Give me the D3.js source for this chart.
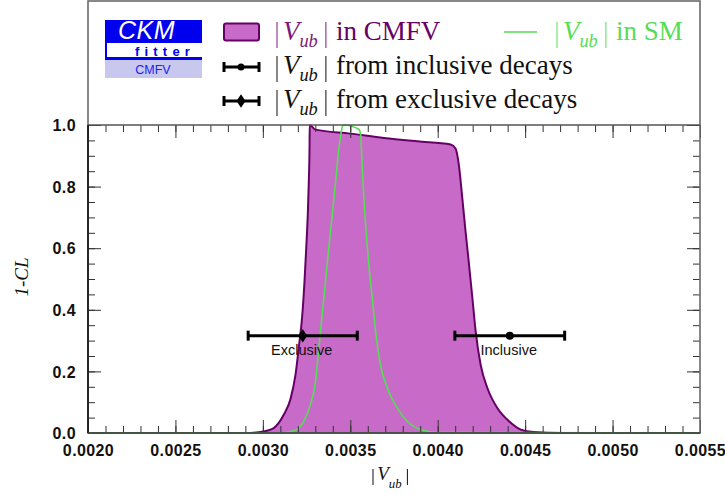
<!DOCTYPE html>
<html>
<head>
<meta charset="utf-8">
<script src="https://cdn.jsdelivr.net/npm/d3@7"></script>
<style>
  html, body { margin: 0; padding: 0; background: #fff; }
  svg { display: block; }
</style>
</head>
<body>
<svg id="chart" width="725" height="502"></svg>
<script>
// --- data ---
const cmfvX = [0.0020, 0.0029, 0.003003, 0.003062, 0.00312, 0.003158, 0.003187, 0.003206, 0.003225, 0.003238,
  0.003248, 0.003257, 0.003263, 0.003267, 0.003268, 0.003301, 0.003501, 0.003692, 0.003883, 0.004074,
  0.004102, 0.004121, 0.004141, 0.00416, 0.004179, 0.004198, 0.004217, 0.004246, 0.004284, 0.004341,
  0.004408, 0.004475, 0.004551, 0.004704, 0.0055];
const cmfvY = [0, 0, 0.005, 0.016, 0.06, 0.11, 0.19, 0.28, 0.38, 0.49,
  0.60, 0.71, 0.82, 0.93, 1.0, 0.985, 0.972, 0.958, 0.947, 0.937,
  0.924, 0.87, 0.76, 0.65, 0.547, 0.44, 0.33, 0.22, 0.146, 0.081,
  0.038, 0.011, 0.003, 0, 0];

const smX = [0.0020, 0.0031, 0.003177, 0.003234, 0.003272, 0.003301, 0.00332, 0.003339, 0.003358, 0.003377,
  0.003397, 0.003416, 0.003434, 0.003454, 0.00346, 0.003549, 0.003559, 0.003568, 0.003578, 0.003591,
  0.003606, 0.003626, 0.003645, 0.003673, 0.003712, 0.003769, 0.003826, 0.003902, 0.003998, 0.0055];
const smY = [0, 0, 0.007, 0.038, 0.092, 0.167, 0.275, 0.384, 0.49, 0.60,
  0.71, 0.815, 0.92, 0.993, 1.0, 0.986, 0.97, 0.87, 0.76, 0.65,
  0.545, 0.437, 0.33, 0.22, 0.146, 0.081, 0.038, 0.011, 0.002, 0];

// measurements: central value, error, CL level where drawn
const measNames = ['Exclusive', 'Inclusive'];
const measCentral = [0.003228, 0.004412];
const measError = [0.000312, 0.000314];
const measLevel = [0.316, 0.316];

const xTicks = [0.0020, 0.0025, 0.0030, 0.0035, 0.0040, 0.0045, 0.0050, 0.0055];
const xTickLabels = ['0.0020', '0.0025', '0.0030', '0.0035', '0.0040', '0.0045', '0.0050', '0.0055'];
const yTicks = [0, 0.2, 0.4, 0.6, 0.8, 1.0];
const yTickLabels = ['0.0', '0.2', '0.4', '0.6', '0.8', '1.0'];

// --- layout ---
const plotLeft = 88, plotRight = 700, plotTop = 125, plotBottom = 433, frameTop = 1;
const svg = d3.select('#chart');

const x = d3.scaleLinear().domain([0.0020, 0.0055]).range([plotLeft, plotRight]);
const y = d3.scaleLinear().domain([0, 1]).range([plotBottom, plotTop]);

const purpleFill = '#c86bc8', purpleLine = '#660066', green = '#55dd55';

const cmfv = cmfvX.map((v, i) => ({ x: v, y: cmfvY[i] }));
const sm = smX.map((v, i) => ({ x: v, y: smY[i] }));

const area = d3.area().x(d => x(d.x)).y0(y(0)).y1(d => y(d.y)).curve(d3.curveMonotoneX);
const line = d3.line().x(d => x(d.x)).y(d => y(d.y)).curve(d3.curveMonotoneX);

svg.append('path').datum(cmfv).attr('d', area).attr('fill', purpleFill);
svg.append('path').datum(cmfv).attr('d', line).attr('fill', 'none')
  .attr('stroke', purpleLine).attr('stroke-width', 2);
svg.append('path').datum(sm).attr('d', line).attr('fill', 'none')
  .attr('stroke', green).attr('stroke-width', 1.6);

// error bars
function errorBar(g, cx, cy, x0, x1, capH, marker, size) {
  g.append('line').attr('x1', x0).attr('x2', x1).attr('y1', cy).attr('y2', cy)
    .attr('stroke', '#000').attr('stroke-width', 3);
  [x0, x1].forEach(cxp => g.append('line').attr('x1', cxp).attr('x2', cxp)
    .attr('y1', cy - capH / 2).attr('y2', cy + capH / 2).attr('stroke', '#000').attr('stroke-width', 3));
  if (marker === 'dot') {
    g.append('circle').attr('cx', cx).attr('cy', cy).attr('r', size).attr('fill', '#000');
  } else {
    g.append('path').attr('d', `M${cx},${cy - size * 1.5}L${cx + size},${cy}L${cx},${cy + size * 1.5}L${cx - size},${cy}Z`)
      .attr('fill', '#000');
  }
}

const meas = svg.append('g');
measNames.forEach((name, i) => {
  const cy = y(measLevel[i]);
  errorBar(meas, x(measCentral[i]), cy, x(measCentral[i] - measError[i]), x(measCentral[i] + measError[i]),
    10, i === 0 ? 'diamond' : 'dot', i === 0 ? 4.5 : 4);
  meas.append('text').attr('x', x(measCentral[i]) - 1).attr('y', cy + 19)
    .attr('text-anchor', 'middle').attr('font-family', 'Liberation Sans, Arial, sans-serif')
    .attr('font-size', 14.5).attr('fill', '#111').text(name);
});

// --- axes: inward ticks on all four sides ---
const minorX = d3.range(20, 56).map(d => d / 10000);
const minorY = d3.range(0, 21).map(d => d * 0.05);
const tickColor = '#333';

function styleAxis(g) {
  g.select('.domain').remove();
  g.selectAll('line').attr('stroke', tickColor);
}

svg.append('g').attr('transform', `translate(0,${plotBottom})`)
  .call(d3.axisBottom(x).tickValues(minorX).tickSize(-7).tickFormat(''))
  .call(styleAxis);
svg.append('g').attr('transform', `translate(0,${plotTop})`)
  .call(d3.axisTop(x).tickValues(minorX).tickSize(-7).tickFormat(''))
  .call(styleAxis);
svg.append('g').attr('transform', `translate(0,${plotTop})`)
  .call(d3.axisTop(x).tickValues(xTicks).tickSize(-13).tickFormat(''))
  .call(styleAxis);
const xAxis = svg.append('g').attr('transform', `translate(0,${plotBottom})`)
  .call(d3.axisBottom(x).tickValues(xTicks).tickSize(-13).tickFormat((d, i) => xTickLabels[i]))
  .call(styleAxis);
xAxis.selectAll('text').attr('y', 23).attr('dy', 0)
  .attr('font-family', 'Liberation Sans, Arial, sans-serif').attr('font-weight', 'bold')
  .attr('font-size', 16).attr('letter-spacing', 0.4).attr('fill', '#111');

svg.append('g').attr('transform', `translate(${plotLeft},0)`)
  .call(d3.axisLeft(y).tickValues(minorY).tickSize(-7).tickFormat(''))
  .call(styleAxis);
svg.append('g').attr('transform', `translate(${plotRight},0)`)
  .call(d3.axisRight(y).tickValues(minorY).tickSize(-7).tickFormat(''))
  .call(styleAxis);
svg.append('g').attr('transform', `translate(${plotRight},0)`)
  .call(d3.axisRight(y).tickValues(yTicks).tickSize(-13).tickFormat(''))
  .call(styleAxis);
const yAxis = svg.append('g').attr('transform', `translate(${plotLeft},0)`)
  .call(d3.axisLeft(y).tickValues(yTicks).tickSize(-13).tickFormat((d, i) => yTickLabels[i]))
  .call(styleAxis);
yAxis.selectAll('text').attr('x', -12).attr('dy', '0.35em')
  .attr('font-family', 'Liberation Sans, Arial, sans-serif').attr('font-weight', 'bold')
  .attr('font-size', 16).attr('letter-spacing', 0.4).attr('fill', '#111');

// frame around legend + plot
svg.append('rect').attr('x', plotLeft).attr('y', frameTop).attr('width', plotRight - plotLeft)
  .attr('height', plotBottom - frameTop)
  .attr('fill', 'none').attr('stroke', '#6a6a6a').attr('stroke-width', 1.6);
svg.append('line').attr('x1', plotLeft).attr('x2', plotRight).attr('y1', plotTop).attr('y2', plotTop)
  .attr('stroke', '#555').attr('stroke-width', 1.6);
svg.append('line').attr('x1', plotLeft).attr('x2', plotLeft).attr('y1', plotTop).attr('y2', plotBottom)
  .attr('stroke', '#111').attr('stroke-width', 1.6);
svg.append('line').attr('x1', plotLeft).attr('x2', plotRight).attr('y1', plotBottom).attr('y2', plotBottom)
  .attr('stroke', '#3a4a3a').attr('stroke-width', 1.6);

// |V_ub| label helper
const serif = 'Liberation Serif, Times New Roman, serif';
function vub(g, x0, base, size, color, barTop, barBot, subDy) {
  g.append('line').attr('x1', x0).attr('x2', x0).attr('y1', base - barTop).attr('y2', base + barBot)
    .attr('stroke', color).attr('stroke-width', 1);
  const v = g.append('text').attr('x', x0 + size * 0.22).attr('y', base)
    .attr('font-family', serif).attr('font-style', 'italic').attr('font-size', size)
    .attr('fill', color).text('V');
  const vEnd = x0 + size * 0.22 + v.node().getComputedTextLength();
  const s = g.append('text').attr('x', vEnd).attr('y', base + subDy)
    .attr('font-family', serif).attr('font-style', 'italic').attr('font-size', size * 0.68)
    .attr('fill', color).text('ub');
  const sEnd = vEnd + s.node().getComputedTextLength();
  const x1 = sEnd + size * 0.3;
  g.append('line').attr('x1', x1).attr('x2', x1).attr('y1', base - barTop).attr('y2', base + barBot)
    .attr('stroke', color).attr('stroke-width', 1);
  return x1;
}

// axis titles
const xt = svg.append('g');
vub(xt, 373, 480, 19, '#111', 11, 5, 8);
svg.append('text').attr('transform', 'translate(28,277) rotate(-90)')
  .attr('text-anchor', 'middle').attr('font-family', serif).attr('font-style', 'italic')
  .attr('font-size', 19).attr('fill', '#111').text('1-CL');

// --- legend ---
const leg = svg.append('g');
const legSize = 27;
const rowBase = [40, 74, 108];

leg.append('rect').attr('x', 224).attr('y', 23.5).attr('width', 35).attr('height', 17).attr('rx', 2)
  .attr('fill', purpleFill).attr('stroke', purpleLine).attr('stroke-width', 2);
let ex = vub(leg, 277, rowBase[0], legSize, '#7a1a7a', 18, 8, 7);
leg.append('text').attr('x', ex + 10).attr('y', rowBase[0]).attr('font-family', serif)
  .attr('font-size', legSize).attr('fill', '#660066').text('in CMFV');

leg.append('line').attr('x1', 504).attr('x2', 537).attr('y1', 32).attr('y2', 32)
  .attr('stroke', green).attr('stroke-width', 1.6);
ex = vub(leg, 557, rowBase[0], legSize, green, 18, 8, 7);
leg.append('text').attr('x', ex + 10).attr('y', rowBase[0]).attr('font-family', serif)
  .attr('font-size', legSize).attr('fill', green).text('in SM');

errorBar(leg, 241, 67, 224, 259, 10, 'dot', 3.5);
ex = vub(leg, 277, rowBase[1], legSize, '#111', 18, 8, 7);
leg.append('text').attr('x', ex + 10).attr('y', rowBase[1]).attr('font-family', serif)
  .attr('font-size', legSize).attr('fill', '#111').text('from inclusive decays');

errorBar(leg, 241, 101, 224, 259, 10, 'diamond', 4.5);
ex = vub(leg, 277, rowBase[2], legSize, '#111', 18, 8, 7);
leg.append('text').attr('x', ex + 10).attr('y', rowBase[2]).attr('font-family', serif)
  .attr('font-size', legSize).attr('fill', '#111').text('from exclusive decays');

// CKMfitter logo
const logo = svg.append('g');
logo.append('rect').attr('x', 105).attr('y', 20).attr('width', 97).attr('height', 40).attr('fill', '#0000ee');
logo.append('rect').attr('x', 107).attr('y', 43).attr('width', 95).attr('height', 14).attr('fill', '#fff');
logo.append('rect').attr('x', 105).attr('y', 60).attr('width', 97).attr('height', 18).attr('fill', '#c8c8ee');
logo.append('text').attr('x', 118).attr('y', 39).attr('font-family', 'Liberation Sans, Arial, sans-serif')
  .attr('font-style', 'italic').attr('font-size', 25).attr('letter-spacing', 0.5).attr('fill', '#fff').text('CKM');
logo.append('text').attr('x', 135).attr('y', 55.5).attr('font-family', 'Liberation Sans, Arial, sans-serif')
  .attr('font-weight', 'bold').attr('font-size', 13).attr('letter-spacing', 5.2).attr('fill', '#0000ee').text('fitter');
logo.append('text').attr('x', 153).attr('y', 74).attr('text-anchor', 'middle')
  .attr('font-family', 'Liberation Sans, Arial, sans-serif').attr('font-size', 12.5).attr('fill', '#2020ee').text('CMFV');
</script>
</body>
</html>
